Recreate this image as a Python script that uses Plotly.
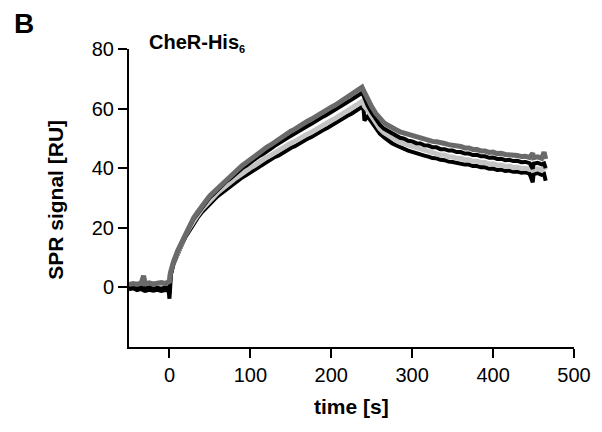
import plotly.graph_objects as go

time_s = [-50, -45, -40, -35, -32, -30, -25, -20, -15, -10, -5, -1, 0, 1, 2,
          5, 10, 15, 20, 25, 30, 35, 40, 45, 50, 55, 60, 65, 70, 75, 80, 85, 90, 95,
          100, 105, 110, 115, 120, 125, 130, 135, 140, 145, 150, 155, 160, 165, 170,
          175, 180, 185, 190, 195, 200, 205, 210, 215, 220, 225, 230, 235, 238, 240,
          241, 245, 250, 255, 260, 265, 270, 275, 280, 285, 290, 295, 300, 305, 310,
          315, 320, 325, 330, 335, 340, 345, 350, 355, 360, 365, 370, 375, 380, 385,
          390, 395, 400, 405, 410, 415, 420, 425, 430, 435, 440, 445, 449, 450, 455,
          460, 463, 465]

# hatched dark-grey sensorgram (top)
sig_grey_dark = [0.9, 1.3, 1.0, 1.4, 3.9, 1.2, 1.5, 1.1, 1.4, 1.6, 1.3, 1.7, 2.0, 4.5, 5.8,
                 8.6, 12.2, 15.2, 18.4, 20.8, 23.4, 25.3, 27.4, 29.0, 30.8, 32.1, 33.6, 34.8, 36.2, 37.3, 38.6, 39.7, 40.9, 41.9,
                 43.0, 43.9, 45.0, 45.9, 47.0, 47.8, 48.8, 49.6, 50.6, 51.5, 52.4, 53.1, 54.1, 54.8, 55.7,
                 56.4, 57.3, 58.0, 58.9, 59.6, 60.5, 61.2, 62.1, 62.8, 63.8, 64.5, 65.5, 66.4, 67.2, 66.0,
                 65.4, 63.0, 60.6, 58.4, 56.6, 55.3, 54.4, 53.5, 52.9, 52.2, 51.8, 51.2, 50.9, 50.4, 50.2,
                 49.7, 49.5, 49.0, 48.9, 48.4, 48.3, 47.9, 47.8, 47.3, 47.3, 46.8, 46.8, 46.3, 46.3, 45.8,
                 45.8, 45.3, 45.4, 44.9, 45.0, 44.6, 44.6, 44.2, 44.3, 43.9, 44.0, 43.6, 45.0, 43.5, 43.8,
                 43.3, 45.4, 43.1]

# black sensorgram (middle)
sig_black_1 = [-0.2, 0.2, -0.3, 0.1, 0.0, -0.4, 0.0, -0.5, -0.1, -0.4, 0.0, -0.2, -2.0, 3.5, 5.2,
               8.3, 11.9, 15.0, 18.0, 20.5, 23.0, 24.9, 26.9, 28.5, 30.2, 31.5, 33.0, 34.1, 35.5, 36.5, 37.8, 38.8, 40.0, 40.9,
               42.0, 42.8, 43.9, 44.7, 45.8, 46.5, 47.5, 48.2, 49.2, 50.0, 50.9, 51.6, 52.5, 53.2, 54.1,
               54.8, 55.7, 56.4, 57.3, 58.0, 58.9, 59.6, 60.5, 61.3, 62.2, 63.0, 63.9, 64.7, 65.3, 64.3,
               63.5, 61.0, 58.6, 56.5, 54.6, 53.3, 52.5, 51.5, 51.0, 50.2, 49.9, 49.2, 49.0, 48.4, 48.3,
               47.7, 47.6, 47.0, 47.0, 46.4, 46.4, 45.9, 45.9, 45.4, 45.4, 44.9, 44.9, 44.4, 44.5, 44.0,
               44.0, 43.5, 43.6, 43.1, 43.2, 42.7, 42.8, 42.4, 42.5, 42.0, 42.1, 41.7, 39.8, 41.5, 41.8,
               41.3, 41.6, 40.0]

# light-grey sensorgram
sig_grey_light = [1.0, 0.7, 1.2, 0.9, 2.5, 1.0, 0.8, 1.3, 1.0, 1.4, 1.1, 1.5, 3.0, 5.5, 6.0,
                  8.4, 11.8, 14.8, 17.8, 20.1, 22.6, 24.3, 26.2, 27.7, 29.3, 30.5, 31.9, 33.0, 34.2, 35.2, 36.3, 37.2, 38.3, 39.1,
                  40.1, 40.9, 41.9, 42.6, 43.6, 44.3, 45.2, 45.9, 46.8, 47.5, 48.4, 49.0, 49.9, 50.5, 51.4,
                  52.0, 52.9, 53.5, 54.4, 55.1, 56.0, 56.7, 57.6, 58.3, 59.2, 59.9, 60.8, 61.6, 62.4, 61.5,
                  60.8, 59.5, 57.2, 55.1, 53.3, 52.0, 51.0, 50.0, 49.4, 48.6, 48.2, 47.5, 47.2, 46.6, 46.4,
                  45.8, 45.6, 45.0, 45.0, 44.4, 44.4, 43.8, 43.8, 43.3, 43.3, 42.8, 42.8, 42.3, 42.4, 41.9,
                  41.9, 41.4, 41.5, 41.0, 41.1, 40.6, 40.7, 40.2, 40.3, 39.9, 40.0, 39.6, 40.8, 39.4, 39.8,
                  39.3, 40.5, 39.4]

# black sensorgram (bottom)
sig_black_2 = [-0.6, -0.3, -0.9, -0.5, -1.0, -1.2, -0.8, -1.1, -0.8, -1.2, -0.9, -1.1, -3.8, 2.0, 4.6,
               7.8, 11.2, 14.1, 17.0, 19.3, 21.7, 23.4, 25.2, 26.7, 28.2, 29.4, 30.7, 31.8, 32.9, 33.9, 35.0, 35.8, 36.9, 37.7,
               38.6, 39.4, 40.4, 41.0, 42.1, 42.7, 43.7, 44.3, 45.2, 45.9, 46.8, 47.4, 48.3, 48.9, 49.8,
               50.4, 51.3, 51.9, 52.8, 53.5, 54.4, 55.1, 56.0, 56.7, 57.6, 58.3, 59.2, 60.0, 60.6, 59.5,
               56.0, 57.4, 55.5, 53.4, 51.6, 50.4, 49.3, 48.4, 47.7, 47.0, 46.5, 45.9, 45.5, 45.0, 44.7,
               44.2, 43.9, 43.4, 43.3, 42.8, 42.7, 42.2, 42.1, 41.7, 41.6, 41.2, 41.2, 40.7, 40.7, 40.3,
               40.3, 39.8, 39.9, 39.4, 39.5, 39.1, 39.2, 38.8, 38.9, 38.5, 38.6, 38.2, 35.3, 38.0, 38.4,
               37.8, 38.1, 35.8]

x_ticks = [0, 100, 200, 300, 400, 500]
y_ticks = [0, 20, 40, 60, 80]

FONT = "Liberation Sans, Arial, Helvetica, sans-serif"

fig = go.Figure()
fig.add_trace(go.Scatter(x=time_s, y=sig_black_2, mode="lines",
                         line=dict(color="#000000", width=4), showlegend=False))
fig.add_trace(go.Scatter(x=time_s, y=sig_grey_light, mode="lines",
                         line=dict(color="#c4c4c4", width=5), showlegend=False))
fig.add_trace(go.Scatter(x=time_s, y=sig_black_1, mode="lines",
                         line=dict(color="#000000", width=4), showlegend=False))
fig.add_trace(go.Scatter(x=time_s, y=sig_grey_dark, mode="lines",
                         line=dict(color="#6a6a6a", width=5), showlegend=False))

axis_common = dict(showgrid=False, zeroline=False, showline=True, linecolor="black",
                   linewidth=2, ticks="outside", ticklen=9, tickwidth=2, tickcolor="black",
                   tickfont=dict(family=FONT, size=20, color="black"))

fig.update_xaxes(range=[-50, 500], tickvals=x_ticks, ticktext=[str(v) for v in x_ticks],
                 **axis_common)
fig.update_yaxes(range=[-20, 80], tickvals=y_ticks, ticktext=[str(v) for v in y_ticks],
                 **axis_common)

# the page body adds an 8 px margin, so the figure is 8 px smaller and margins shifted
fig.update_layout(
    width=594, height=424,
    margin=dict(l=121, r=28, t=41, b=85),
    plot_bgcolor="white", paper_bgcolor="white",
    font=dict(family=FONT, color="black"),
    annotations=[
        dict(text="<b>time [s]</b>", xref="paper", yref="paper", x=0.501, y=-0.201,
             xanchor="center", yanchor="middle", showarrow=False,
             font=dict(family=FONT, size=21, color="black")),
        dict(text="<b>SPR signal [RU]</b>", xref="paper", yref="paper", x=-0.167, y=0.493,
             xanchor="center", yanchor="middle", showarrow=False, textangle=-90,
             font=dict(family=FONT, size=21, color="black")),
        dict(text="<b>B</b>", xref="paper", yref="paper", x=-0.236, y=1.087,
             xanchor="center", yanchor="middle", showarrow=False,
             font=dict(family=FONT, size=28, color="black")),
        dict(text="<b>CheR-His<sub><span style='font-size:11px'>6</span></sub></b>",
             xref="paper", yref="paper", x=0.040, y=1.02,
             xanchor="left", yanchor="middle", showarrow=False,
             font=dict(family=FONT, size=20, color="black")),
    ],
)

fig.write_html("out.html")
